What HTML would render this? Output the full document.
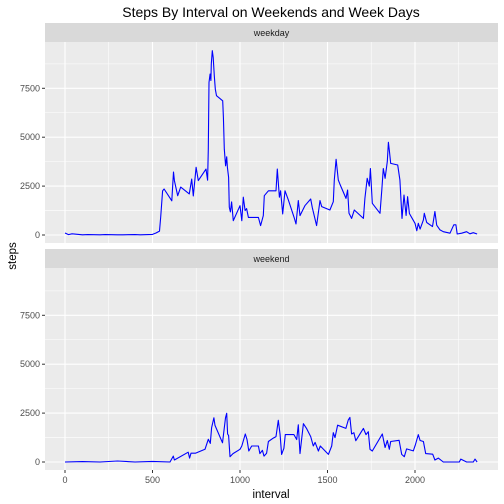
<!DOCTYPE html>
<html><head><meta charset="utf-8"><style>
body{margin:0;background:#fff}
svg{display:block;font-family:"Liberation Sans",sans-serif}
</style></head><body>
<svg id="chart" width="504" height="504" viewBox="0 0 504 504" xmlns="http://www.w3.org/2000/svg">
<rect width="504" height="504" fill="#fff"/>
<text x="271" y="17" font-size="14" text-anchor="middle" fill="#000">Steps By Interval on Weekends and Week Days</text>
<text x="271" y="498" font-size="11.5" text-anchor="middle" fill="#000">interval</text>
<text x="0" y="0" font-size="11.5" text-anchor="middle" fill="#000" transform="translate(16,256) rotate(-90)">steps</text>
<g id="plots"></g>
</svg>
<script>
const xTicks=[0,500,1000,1500,2000];
const xMinor=[250,750,1250,1750,2250];
const yTicks=[0,2500,5000,7500];
const yMinor=[1250,3750,6250,8750];
const panels=["weekday","weekend"];
const weekdayInterval=[0,20,40,100,130,200,230,300,330,400,430,500,520,540,547,558,566,610,620,625,644,661,710,724,733,749,762,806,815,819,823,829,834,836,842,847,853,859,866,901,905,910,918,924,928,935,939,945,952,962,1000,1010,1019,1029,1038,1048,1105,1118,1133,1139,1162,1206,1213,1225,1232,1244,1257,1276,1309,1320,1333,1343,1371,1404,1413,1438,1457,1467,1514,1533,1539,1549,1562,1571,1606,1615,1623,1638,1653,1705,1714,1727,1739,1745,1756,1800,1810,1819,1829,1842,1848,1853,1861,1901,1914,1926,1937,1949,1958,1968,2000,2010,2019,2029,2048,2053,2067,2100,2114,2124,2143,2162,2200,2222,2234,2241,2267,2295,2314,2333,2355];
const weekdaySteps=[100,20,60,10,20,10,20,10,10,20,10,30,100,200,920,2260,2350,1750,3220,2780,2010,2450,2100,2860,2000,3460,2780,3370,2800,4390,7800,8230,7900,8740,9420,9080,8140,7460,7120,6860,6030,4390,3540,4000,3460,2950,1420,1180,1690,730,1500,730,1930,1250,1350,900,900,480,990,2010,2260,2260,3370,1930,2260,1080,2260,1800,900,560,1760,990,1500,1840,1400,480,1760,1450,1280,1700,2810,3870,2810,2600,1870,2300,1110,850,1280,850,1870,2900,2500,3400,1620,1110,2300,3400,2900,3750,4740,4340,3660,3580,2810,850,2040,1000,1960,1100,600,220,600,300,770,1110,640,430,1200,500,260,170,90,520,520,50,90,170,60,120,50];
const weekendInterval=[0,100,200,300,400,500,600,619,625,704,712,720,745,800,819,830,838,851,857,900,917,924,929,935,943,960,1000,1010,1030,1040,1050,1067,1105,1114,1128,1137,1152,1162,1190,1206,1219,1229,1238,1251,1259,1308,1324,1333,1343,1362,1381,1404,1419,1429,1448,1459,1505,1524,1533,1543,1558,1605,1619,1628,1638,1651,1662,1705,1720,1733,1743,1756,1813,1829,1842,1853,1861,1909,1924,1939,1952,1990,2003,2019,2029,2048,2061,2101,2114,2133,2162,2253,2262,2295,2333,2343,2355];
const weekendSteps=[0,20,0,50,0,30,0,300,100,500,200,450,450,650,1160,950,1750,2260,1870,980,2260,2490,1430,1350,270,430,650,820,1430,1150,560,820,820,430,600,300,450,1050,1220,1300,2130,1400,390,700,1400,1400,1150,1900,430,1960,1700,1300,820,1000,560,820,390,820,1500,1250,1880,1720,2150,2280,1430,1500,1090,1720,1400,1550,650,560,1430,740,1100,650,1050,1110,390,270,670,570,900,1400,1100,1050,430,400,100,200,0,0,150,0,0,150,0];
const seriesX=[weekdayInterval,weekendInterval];
const seriesY=[weekdaySteps,weekendSteps];

const NS="http://www.w3.org/2000/svg";
const g=document.getElementById('plots');
const PL=45,PR=498;
const xs=v=>65+v*0.175;
const tops=[42,268],bots=[243,470],zeros=[235,462];
const ys=(p,v)=>zeros[p]-v*0.01956;
function mk(tag,attrs){const e=document.createElementNS(NS,tag);for(const k in attrs)e.setAttribute(k,attrs[k]);g.appendChild(e);return e;}
panels.forEach((name,p)=>{
  const bg=mk('rect',{x:PL,y:tops[p],width:PR-PL,height:bots[p]-tops[p],fill:'#EBEBEB'});
  
  
  const st=mk('rect',{x:PL,y:tops[p]-19,width:PR-PL,height:19,fill:'#D9D9D9'});
  
  
  const stt=mk('text',{x:(PL+PR)/2,y:tops[p]-6,'font-size':9,'text-anchor':'middle',fill:'#1a1a1a'});
  stt.textContent=name;
  
  
  yMinor.forEach(v=>{const l=mk('line',{x1:PL,x2:PR,y1:ys(p,v),y2:ys(p,v),stroke:'#fff','stroke-width':0.55});
    
    });
  xMinor.forEach(v=>{const l=mk('line',{x1:xs(v),x2:xs(v),y1:tops[p],y2:bots[p],stroke:'#fff','stroke-width':0.55});
    
    });
  yTicks.forEach(v=>{const l=mk('line',{x1:PL,x2:PR,y1:ys(p,v),y2:ys(p,v),stroke:'#fff','stroke-width':1.1});
    
    
    const t=mk('line',{x1:PL-3,x2:PL,y1:ys(p,v),y2:ys(p,v),stroke:'#333','stroke-width':1});
    
    
    const tx=mk('text',{x:PL-5,y:ys(p,v)+3,'font-size':9,'text-anchor':'end',fill:'#4d4d4d'});
    tx.textContent=v;
    
    });
  xTicks.forEach(v=>{const l=mk('line',{x1:xs(v),x2:xs(v),y1:tops[p],y2:bots[p],stroke:'#fff','stroke-width':1.1});
    
    });
  const d=seriesX[p].map((v,i)=>(i?'L':'M')+xs(v).toFixed(1)+','+ys(p,seriesY[p][i]).toFixed(1)).join('');
  const path=mk('path',{d:d,fill:'none',stroke:'#0000FF','stroke-width':1.1,'stroke-linejoin':'round'});
  
  
});
xTicks.forEach(v=>{
  const t=mk('line',{x1:xs(v),x2:xs(v),y1:470,y2:473,stroke:'#333','stroke-width':1});
  
  
  const tx=mk('text',{x:xs(v),y:483,'font-size':9,'text-anchor':'middle',fill:'#4d4d4d'});
  tx.textContent=v;
  
  
});
</script>
</body></html>
